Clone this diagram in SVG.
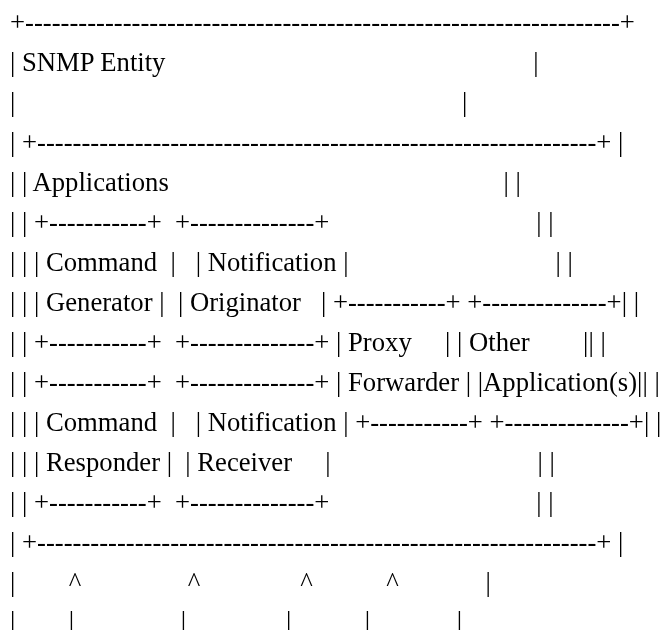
<svg xmlns="http://www.w3.org/2000/svg" width="663" height="630" viewBox="0 0 663 630" xml:space="preserve">
<style>
  text, tspan { font-family: "Liberation Serif", "Times New Roman", serif; font-size: 26.667px; fill: #000; white-space: pre; }
</style>
<defs>
  <filter id="gray" x="0" y="0" width="663" height="630" filterUnits="userSpaceOnUse">
    <feOffset dx="0" dy="0"/>
  </filter>
</defs>
<rect x="0" y="0" width="663" height="630" fill="#ffffff"/>
<g id="ascii-diagram" filter="url(#gray)">
  <text id="l01" xml:space="preserve" x="10" y="30.5">+-------------------------------------------------------------------+</text>
  <text id="l02" xml:space="preserve" y="70.5"><tspan x="10">| SNMP Entity</tspan><tspan x="533.2">|</tspan></text>
  <text id="l03" xml:space="preserve" y="110.5"><tspan x="10">|</tspan><tspan x="462">|</tspan></text>
  <text id="l04" xml:space="preserve" x="10" y="150.5">| +---------------------------------------------------------------+ |</text>
  <text id="l05" xml:space="preserve" y="190.5"><tspan x="10">| | Applications</tspan><tspan x="503.6">| |</tspan></text>
  <text id="l06" xml:space="preserve" y="230.5"><tspan x="10">| | +-----------+  +--------------+</tspan><tspan x="536.2">| |</tspan></text>
  <text id="l07" xml:space="preserve" y="270.5"><tspan x="10">| | | Command  |   | Notification |</tspan><tspan x="555.4">| |</tspan></text>
  <text id="l08" xml:space="preserve" x="10" y="310.5">| | | Generator |  | Originator   | +-----------+ +--------------+| |</text>
  <text id="l09" xml:space="preserve" x="10" y="350.5">| | +-----------+  +--------------+ | Proxy     | | Other        || |</text>
  <text id="l10" xml:space="preserve" x="10" y="390.5">| | +-----------+  +--------------+ | Forwarder | |Application(s)|| |</text>
  <text id="l11" xml:space="preserve" x="10" y="430.5">| | | Command  |   | Notification | +-----------+ +--------------+| |</text>
  <text id="l12" xml:space="preserve" y="470.5"><tspan x="10">| | | Responder |  | Receiver     |</tspan><tspan x="537.5">| |</tspan></text>
  <text id="l13" xml:space="preserve" y="510.5"><tspan x="10">| | +-----------+  +--------------+</tspan><tspan x="536.2">| |</tspan></text>
  <text id="l14" xml:space="preserve" x="10" y="550.5">| +---------------------------------------------------------------+ |</text>
  <text id="l15" xml:space="preserve" y="590.5"><tspan x="10">|</tspan><tspan x="68.67">^</tspan><tspan x="187.85">^</tspan><tspan x="300.36">^</tspan><tspan x="386.2">^</tspan><tspan x="485.4">|</tspan></text>
  <text id="l16" xml:space="preserve" y="630"><tspan x="10">|</tspan><tspan x="68.67">|</tspan><tspan x="180.67">|</tspan><tspan x="286">|</tspan><tspan x="364.67">|</tspan><tspan x="456.67">|</tspan></text>
</g>
</svg>
